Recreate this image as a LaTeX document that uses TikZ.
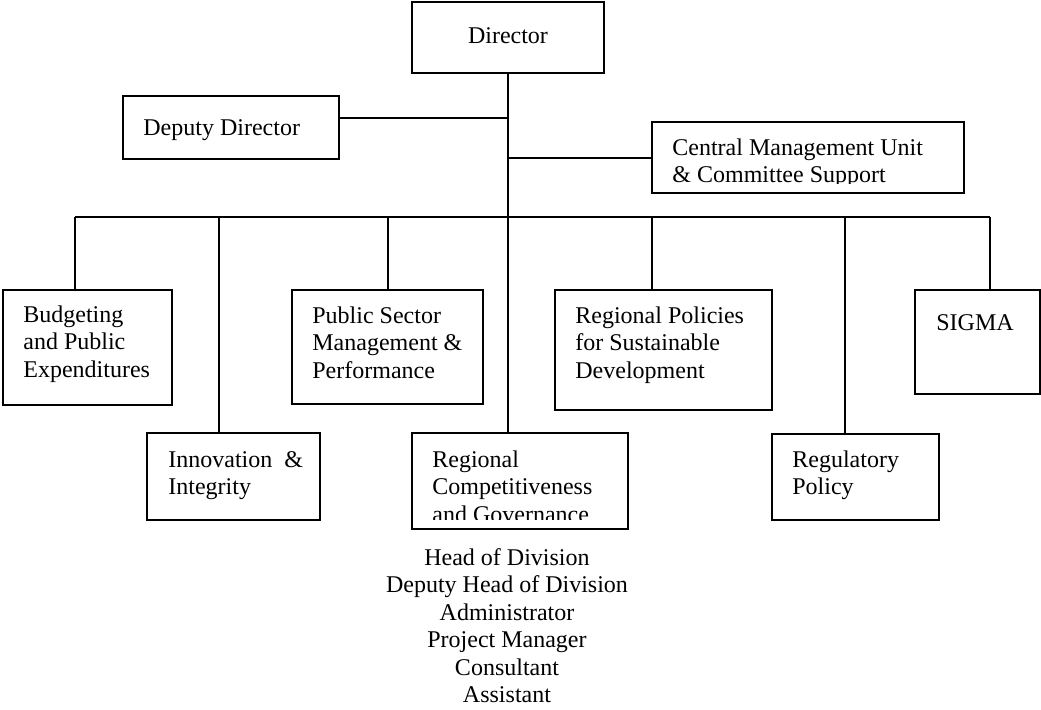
\documentclass[tikz,border=0pt]{standalone}
\usepackage{fontspec}
\setmainfont{Liberation Serif}
\usetikzlibrary{fit}
\begin{document}
\begin{tikzpicture}[x=0.5pt,y=-0.5pt,
  unit/.style={draw, line width=1pt, inner sep=0pt, rectangle},
  txt/.style={inner sep=0pt, font=\fontsize{12}{13.75}\selectfont, align=left, anchor=base west},
  link/.style={line width=0.8pt}]
\useasboundingbox (0,0) rectangle (1041,709);

% unit boxes
\node[unit, fit={(412,2) (604,73)}] (dir) {};
\node[unit, fit={(123,96) (339,159)}] (dep) {};
\node[unit, fit={(652,122) (964,193)}] (cmu) {};
\node[unit, fit={(3,290) (172,405)}] (bud) {};
\node[unit, fit={(147,433) (320,520)}] (inn) {};
\node[unit, fit={(292,290) (483,404)}] (psm) {};
\node[unit, fit={(412,433) (628,529)}] (rc) {};
\node[unit, fit={(555,290) (772,410)}] (rp) {};
\node[unit, fit={(772,434) (939,520)}] (reg) {};
\node[unit, fit={(915,290) (1040,394)}] (sig) {};

% box texts (each node sits on the baseline of its last line)
\node[txt, anchor=base] (tdir) at (508,43) {Director};
\node[txt] (tdep) at (143,135) {Deputy Director};
\begin{scope}
  \clip (652,122) rectangle (964,183.5);
  \node[txt] (tcmu) at (672,182.5) {Central Management Unit\\\& Committee Support};
\end{scope}
\node[txt] (tbud) at (23,377) {Budgeting\\and Public\\Expenditures};
\node[txt] (tinn) at (168,494.5) {Innovation~~\&\\Integrity};
\node[txt] (tpsm) at (312,378) {Public Sector\\Management \&\\Performance};
\begin{scope}
  \clip (412,433) rectangle (628,519);
  \node[txt] (trc) at (432,522) {Regional\\Competitiveness\\and Governance};
\end{scope}
\node[txt] (trp) at (575,378) {Regional Policies\\for Sustainable\\Development};
\node[txt] (treg) at (792,494.5) {Regulatory\\Policy};
\node[txt] (tsig) at (936,330) {SIGMA};

% staff grades
\node[txt, align=center, anchor=base] (staff) at (507,702.5)
  {Head of Division\\Deputy Head of Division\\Administrator\\Project Manager\\Consultant\\Assistant};

% junctions
\coordinate (jdep) at (508,118);
\coordinate (jcmu) at (508,158);
\coordinate (b1) at (75,217);
\coordinate (b2) at (219,217);
\coordinate (b3) at (388,217);
\coordinate (b4) at (508,217);
\coordinate (b5) at (652,217);
\coordinate (b6) at (845,217);
\coordinate (b7) at (990,217);

% connectors
\draw[link] (dir.south) -- (dir.south |- rc.north);
\draw[link] (jdep -| dep.east) -- (jdep);
\draw[link] (jcmu) -- (jcmu -| cmu.west);
\draw[link] (b1) -- (b7);
\draw[link] (b1) -- (b1 |- bud.north);
\draw[link] (b2) -- (b2 |- inn.north);
\draw[link] (b3) -- (b3 |- psm.north);
\draw[link] (b5) -- (b5 |- rp.north);
\draw[link] (b6) -- (b6 |- reg.north);
\draw[link] (b7) -- (b7 |- sig.north);
\end{tikzpicture}
\end{document}
